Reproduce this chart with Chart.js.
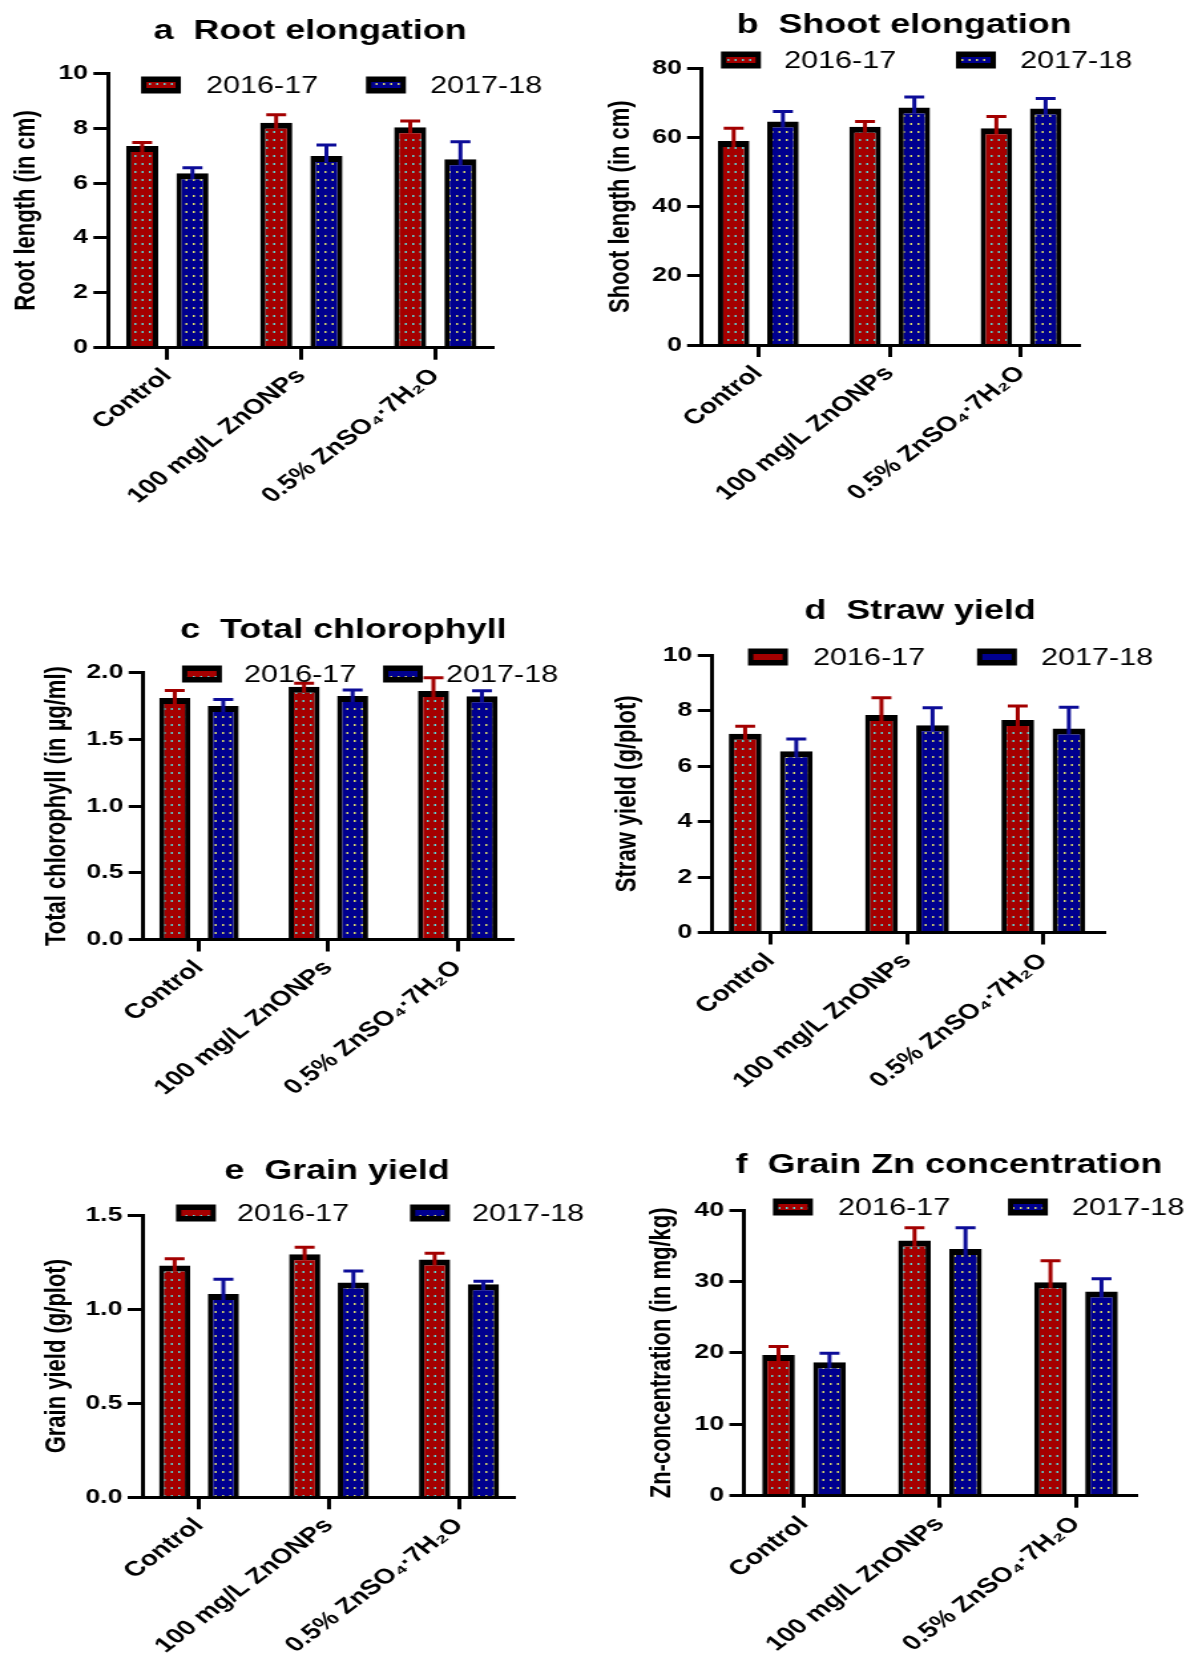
<!DOCTYPE html>
<html>
<head>
<meta charset="utf-8">
<title>ZnONPs foliar spray: growth and yield</title>
<script src="https://cdn.jsdelivr.net/npm/chart.js@4.4.1/dist/chart.umd.min.js"></script>
<style>
  body { margin: 0; background: #fff; }
  #page { position: relative; width: 1187px; height: 1655px; overflow: hidden; }
  #page canvas { position: absolute; }
</style>
</head>
<body>
<div id="page"></div>
<script>
const CATEGORIES = ['Control', '100 mg/L ZnONPs', '0.5% ZnSO\u2084\u00b77H\u2082O'];
const SEASONS = ['2016-17', '2017-18'];

// means and upper error bars
const ROOT_1617 = [7.35, 8.20, 8.03];
const ROOT_1617_ERR = [0.13, 0.29, 0.23];
const ROOT_1718 = [6.36, 6.99, 6.87];
const ROOT_1718_ERR = [0.20, 0.40, 0.64];

const SHOOT_1617 = [59.0, 63.1, 62.7];
const SHOOT_1617_ERR = [3.7, 1.5, 3.4];
const SHOOT_1718 = [64.6, 68.7, 68.4];
const SHOOT_1718_ERR = [2.9, 3.0, 2.9];

const CHL_1617 = [1.81, 1.895, 1.863];
const CHL_1617_ERR = [0.057, 0.025, 0.10];
const CHL_1718 = [1.75, 1.825, 1.823];
const CHL_1718_ERR = [0.05, 0.045, 0.042];

const STRAW_1617 = [7.16, 7.84, 7.66];
const STRAW_1617_ERR = [0.27, 0.62, 0.50];
const STRAW_1718 = [6.53, 7.47, 7.35];
const STRAW_1718_ERR = [0.44, 0.63, 0.77];

const GRAIN_1617 = [1.232, 1.291, 1.263];
const GRAIN_1617_ERR = [0.035, 0.037, 0.034];
const GRAIN_1718 = [1.080, 1.142, 1.132];
const GRAIN_1718_ERR = [0.078, 0.060, 0.016];

const ZN_1617 = [19.7, 35.74, 29.87];
const ZN_1617_ERR = [1.2, 1.77, 3.03];
const ZN_1718 = [18.67, 34.53, 28.6];
const ZN_1718_ERR = [1.26, 3.0, 1.77];

const ROOT_TICKS = [0, 2, 4, 6, 8, 10];
const SHOOT_TICKS = [0, 20, 40, 60, 80];
const CHL_TICKS = [0, 0.5, 1.0, 1.5, 2.0];
const STRAW_TICKS = [0, 2, 4, 6, 8, 10];
const GRAIN_TICKS = [0, 0.5, 1.0, 1.5];
const ZN_TICKS = [0, 10, 20, 30, 40];

const PANELS = [
  { title: 'a  Root elongation', yTitle: 'Root length (in cm)', data: [ROOT_1617, ROOT_1718], err: [ROOT_1617_ERR, ROOT_1718_ERR], ticks: ROOT_TICKS, digits: 0 },
  { title: 'b  Shoot elongation', yTitle: 'Shoot length (in cm)', data: [SHOOT_1617, SHOOT_1718], err: [SHOOT_1617_ERR, SHOOT_1718_ERR], ticks: SHOOT_TICKS, digits: 0 },
  { title: 'c  Total chlorophyll', yTitle: 'Total chlorophyll (in \u00b5g/ml)', data: [CHL_1617, CHL_1718], err: [CHL_1617_ERR, CHL_1718_ERR], ticks: CHL_TICKS, digits: 1 },
  { title: 'd  Straw yield', yTitle: 'Straw yield (g/plot)', data: [STRAW_1617, STRAW_1718], err: [STRAW_1617_ERR, STRAW_1718_ERR], ticks: STRAW_TICKS, digits: 0 },
  { title: 'e  Grain yield', yTitle: 'Grain yield (g/plot)', data: [GRAIN_1617, GRAIN_1718], err: [GRAIN_1617_ERR, GRAIN_1718_ERR], ticks: GRAIN_TICKS, digits: 1 },
  { title: 'f  Grain Zn concentration', yTitle: 'Zn-concentration (in mg/kg)', data: [ZN_1617, ZN_1718], err: [ZN_1617_ERR, ZN_1718_ERR], ticks: ZN_TICKS, digits: 0 }
];

// where each panel sits on the page, in page pixels
const LAYOUT = [
  { left: 0, top: 0, height: 545, axisX: 108, axisR: 494, tick0: 167.3, tick2: 435.3, yTop: 73.3, yZero: 347.7, titleX: 310, titleY: 39.3, yTitleX: 26, legendY: 85, legendX: [141, 206, 366, 430] },
  { left: 593, top: 0, height: 545, axisX: 701.7, axisR: 1080.7, tick0: 758.3, tick2: 1021, yTop: 68.3, yZero: 345, titleX: 904, titleY: 33.3, yTitleX: 620.5, legendY: 60, legendX: [721, 784, 956, 1020] },
  { left: 0, top: 545, height: 595, axisX: 143.3, axisR: 514, tick0: 199, tick2: 457.7, yTop: 672.7, yZero: 939.5, titleX: 343.5, titleY: 638.3, yTitleX: 57, legendY: 674, legendX: [182, 244, 383, 446] },
  { left: 593, top: 545, height: 595, axisX: 712.3, axisR: 1105, tick0: 770.7, tick2: 1043.3, yTop: 655, yZero: 932.5, titleX: 920, titleY: 619.3, yTitleX: 628, legendY: 657, legendX: [748, 813, 977, 1041] },
  { left: 0, top: 1140, height: 515, axisX: 142.3, axisR: 515, tick0: 199, tick2: 459, yTop: 1215, yZero: 1497.3, titleX: 337, titleY: 1179.3, yTitleX: 57, legendY: 1213, legendX: [176, 237, 410, 472] },
  { left: 593, top: 1140, height: 515, axisX: 744, axisR: 1137, tick0: 804, tick2: 1076, yTop: 1210, yZero: 1495.7, titleX: 949, titleY: 1173.3, yTitleX: 662, legendY: 1207, legendX: [773, 838, 1008, 1072] }
];

// the original figure is stretched sideways, so each canvas is drawn narrow and widened by CSS
const BUF_W = 446;
const SX = 593 / BUF_W;
const FONT = "'Liberation Sans', Arial, sans-serif";
const RED = '#a50000';
const BLUE = '#00008f';
const ERR_COLORS = ['#a30000', '#0c0c98'];

Chart.defaults.font.family = FONT;
Chart.defaults.color = '#000';

function dots(ctx, base, dot) {
  const c = document.createElement('canvas');
  c.width = 11;
  c.height = 8;
  const g = c.getContext('2d');
  g.fillStyle = base;
  g.fillRect(0, 0, 11, 8);
  g.fillStyle = dot;
  g.fillRect(2, 3, 1.5, 2);
  g.fillRect(7.5, 3, 1.5, 2);
  return ctx.createPattern(c, 'repeat');
}

function decor(p, L) {
  const bx = x => (x - L.left) / SX;
  return {
    id: 'decor',
    afterDatasetsDraw(chart) {
      const { ctx, scales: { y } } = chart;
      chart.data.datasets.forEach((ds, i) => {
        chart.getDatasetMeta(i).data.forEach((bar, j) => {
          const top = y.getPixelForValue(ds.data[j].y + ds.errors[j]);
          ctx.save();
          ctx.strokeStyle = ds.errorColor;
          ctx.lineWidth = 3;
          ctx.beginPath();
          ctx.moveTo(bar.x, bar.y + 6);
          ctx.lineTo(bar.x, top);
          ctx.moveTo(bar.x - 7.5, top);
          ctx.lineTo(bar.x + 7.5, top);
          ctx.stroke();
          ctx.restore();
        });
      });
    },
    afterDraw(chart) {
      const ctx = chart.ctx;
      ctx.save();
      ctx.fillStyle = '#000';
      ctx.font = 'bold 27px ' + FONT;
      ctx.textAlign = 'center';
      ctx.textBaseline = 'alphabetic';
      ctx.fillText(p.title, bx(L.titleX), L.titleY - L.top);

      // legend
      const cy = L.legendY - L.top;
      ctx.font = '23px ' + FONT;
      ctx.textAlign = 'left';
      SEASONS.forEach((s, i) => {
        const x = bx(L.legendX[2 * i]);
        ctx.fillStyle = '#000';
        ctx.fillRect(x, cy - 8.5, 30, 17);
        ctx.fillStyle = chart.data.datasets[i].backgroundColor;
        ctx.fillRect(x + 4, cy - 3, 22, 6);
        ctx.fillStyle = '#000';
        ctx.fillText(s, bx(L.legendX[2 * i + 1]), cy + 8.2);
      });
      ctx.restore();
    }
  };
}

PANELS.forEach((p, k) => {
  const L = LAYOUT[k];
  const canvas = document.createElement('canvas');
  canvas.width = BUF_W;
  canvas.height = L.height;
  canvas.style.left = L.left + 'px';
  canvas.style.top = L.top + 'px';
  canvas.style.width = Math.round(BUF_W * SX) + 'px';
  canvas.style.height = L.height + 'px';
  document.getElementById('page').appendChild(canvas);
  const ctx = canvas.getContext('2d');

  const fills = [dots(ctx, RED, '#5fd3d3'), dots(ctx, BLUE, '#d8d86a')];
  const bx = x => (x - L.left) / SX;
  const step = (L.tick2 - L.tick0) / 2;
  const left = bx(L.axisX);
  const right = bx(L.axisR);
  const top = L.yTop - L.top;
  const bottom = L.yZero - L.top;

  new Chart(ctx, {
    type: 'bar',
    data: {
      datasets: SEASONS.map((s, i) => ({
        label: s,
        data: p.data[i].map((v, j) => ({ x: j, y: v })),
        errors: p.err[i],
        errorColor: ERR_COLORS[i],
        backgroundColor: fills[i],
        borderColor: '#000',
        borderWidth: { top: 6, left: 4, right: 4, bottom: 0 },
        borderSkipped: 'start',
        categoryPercentage: 0.75,
        barPercentage: 0.64
      }))
    },
    options: {
      responsive: false,
      animation: false,
      devicePixelRatio: 1,
      layout: { padding: { left: 0, top: top, right: BUF_W - right, bottom: 0 } },
      plugins: {
        legend: { display: false },
        tooltip: { enabled: false },
        title: { display: false }
      },
      scales: {
        x: {
          type: 'linear',
          min: (L.axisX - L.tick0) / step,
          max: (L.axisR - L.tick0) / step,
          offset: false,
          afterBuildTicks: s => { s.ticks = CATEGORIES.map((c, j) => ({ value: j })); },
          afterFit: s => { s.height = L.height - bottom; },
          grid: { drawOnChartArea: false, offset: false, tickLength: 12, tickWidth: 3, tickColor: '#000' },
          border: { width: 3, color: '#000', z: 1 },
          ticks: {
            autoSkip: false,
            minRotation: 45,
            maxRotation: 45,
            padding: 4,
            font: { size: 21, weight: 'bold' },
            callback: v => CATEGORIES[v]
          }
        },
        y: {
          min: 0,
          max: p.ticks[p.ticks.length - 1],
          afterBuildTicks: s => { s.ticks = p.ticks.map(v => ({ value: v })); },
          afterFit: s => { s.width = left; },
          grid: { drawOnChartArea: false, tickLength: 11, tickWidth: 3, tickColor: '#000' },
          border: { width: 3, color: '#000', z: 1 },
          ticks: {
            padding: 4,
            font: { size: 20, weight: 'bold' },
            callback: v => v.toFixed(p.digits)
          },
          title: {
            display: true,
            text: p.yTitle,
            font: { size: 22, weight: 'bold' },
            padding: { top: Math.max(bx(L.yTitleX) - 13.2, 0), bottom: 0 }
          }
        }
      }
    },
    plugins: [decor(p, L)]
  });
});
</script>
</body>
</html>
